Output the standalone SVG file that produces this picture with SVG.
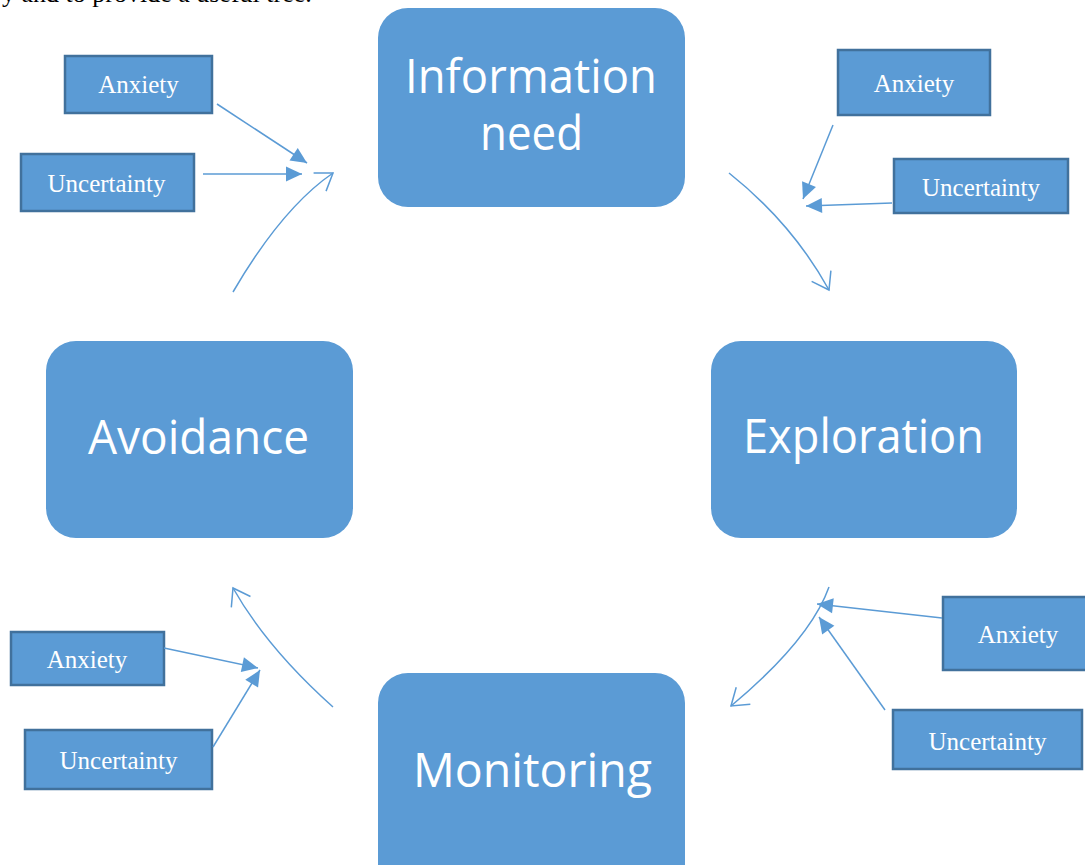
<svg xmlns="http://www.w3.org/2000/svg" width="1085" height="865" viewBox="0 0 1085 865">
  <style>
    .stage { fill: #5B9BD5; }
    .stage-label { fill: #FFFFFF; font-family: "Open Sans", "Noto Sans", sans-serif; font-size: 47px; text-anchor: middle; }
    .factor { fill: #5B9BD5; stroke: #41719C; stroke-width: 2.5; }
    .factor-label { fill: #FFFFFF; font-family: "Liberation Serif", "Times New Roman", serif; font-size: 25px; text-anchor: middle; }
    .cycle { fill: none; stroke: #5B9BD5; stroke-width: 1.5; marker-end: url(#open-head); }
    .influence { fill: none; stroke: #5B9BD5; stroke-width: 1.5; marker-end: url(#solid-head); }
    .caption { fill: #000000; font-family: "Liberation Serif", "Times New Roman", serif; font-size: 26px; }
  </style>
  <defs>
    <marker id="open-head" markerUnits="userSpaceOnUse" viewBox="-20 -14 24 28" markerWidth="24" markerHeight="28" refX="0" refY="0" orient="auto">
      <path d="M-16,-11 L0,0 L-16,11" fill="none" stroke="#5B9BD5" stroke-width="1.5"/>
    </marker>
    <marker id="solid-head" markerUnits="userSpaceOnUse" viewBox="-18 -9 20 18" markerWidth="20" markerHeight="18" refX="0" refY="0" orient="auto">
      <path d="M-16,-7.5 L0,0 L-16,7.5 Z" fill="#5B9BD5"/>
    </marker>
  </defs>

  <rect width="1085" height="865" fill="#FFFFFF"/>

  <!-- running text line cut by the top edge -->
  <text class="caption" x="2" y="2">y and to provide a useful tree.</text>

  <!-- cycle stages -->
  <g id="information-need">
    <rect class="stage" x="378" y="8" width="307" height="199" rx="30" ry="30"/>
    <text class="stage-label" x="531" y="93" textLength="252" lengthAdjust="spacingAndGlyphs">Information</text>
    <text class="stage-label" x="531.5" y="150" textLength="103" lengthAdjust="spacingAndGlyphs">need</text>
  </g>
  <g id="exploration">
    <rect class="stage" x="711" y="341" width="306" height="197" rx="30" ry="30"/>
    <text class="stage-label" x="863.5" y="453" textLength="241" lengthAdjust="spacingAndGlyphs">Exploration</text>
  </g>
  <g id="monitoring">
    <rect class="stage" x="378" y="673" width="307" height="230" rx="30" ry="30"/>
    <text class="stage-label" x="532.5" y="787" textLength="239" lengthAdjust="spacingAndGlyphs">Monitoring</text>
  </g>
  <g id="avoidance">
    <rect class="stage" x="46" y="341" width="307" height="197" rx="30" ry="30"/>
    <text class="stage-label" x="198.5" y="454" textLength="221" lengthAdjust="spacingAndGlyphs">Avoidance</text>
  </g>

  <!-- influencing factors -->
  <g id="anxiety-tl">
    <rect class="factor" x="65" y="56" width="147" height="57"/>
    <text class="factor-label" x="138.5" y="93">Anxiety</text>
  </g>
  <g id="uncertainty-tl">
    <rect class="factor" x="21" y="154" width="173" height="57"/>
    <text class="factor-label" x="106.5" y="192">Uncertainty</text>
  </g>
  <g id="anxiety-tr">
    <rect class="factor" x="838" y="50" width="152" height="65"/>
    <text class="factor-label" x="914" y="92">Anxiety</text>
  </g>
  <g id="uncertainty-tr">
    <rect class="factor" x="894" y="159" width="174" height="54"/>
    <text class="factor-label" x="981" y="196">Uncertainty</text>
  </g>
  <g id="anxiety-bl">
    <rect class="factor" x="11" y="632" width="153" height="53"/>
    <text class="factor-label" x="87" y="668">Anxiety</text>
  </g>
  <g id="uncertainty-bl">
    <rect class="factor" x="25" y="730" width="187" height="59"/>
    <text class="factor-label" x="118.5" y="769">Uncertainty</text>
  </g>
  <g id="anxiety-br">
    <rect class="factor" x="943" y="597" width="150" height="73"/>
    <text class="factor-label" x="1018" y="643">Anxiety</text>
  </g>
  <g id="uncertainty-br">
    <rect class="factor" x="893" y="710" width="189" height="59"/>
    <text class="factor-label" x="987.5" y="750">Uncertainty</text>
  </g>

  <!-- connectors -->
  <g id="connectors">
    <!-- cycle arcs between stages -->
    <path class="cycle" d="M729,173 Q792,223 829,290"/>
    <path class="cycle" d="M829,587 Q810,640 731,706"/>
    <path class="cycle" d="M333,707 Q267,648 233,588"/>
    <path class="cycle" d="M233,292 Q282,208 333,173"/>
    <!-- factor influences -->
    <path class="influence" d="M217,104 L307,163"/>
    <path class="influence" d="M203,174 L302,174"/>
    <path class="influence" d="M833,125 L803,199"/>
    <path class="influence" d="M892,203 L806,206"/>
    <path class="influence" d="M164,648 L258,668"/>
    <path class="influence" d="M213,747 L260,670"/>
    <path class="influence" d="M942,618 L817,604"/>
    <path class="influence" d="M885,710 L819,617"/>
  </g>
</svg>
